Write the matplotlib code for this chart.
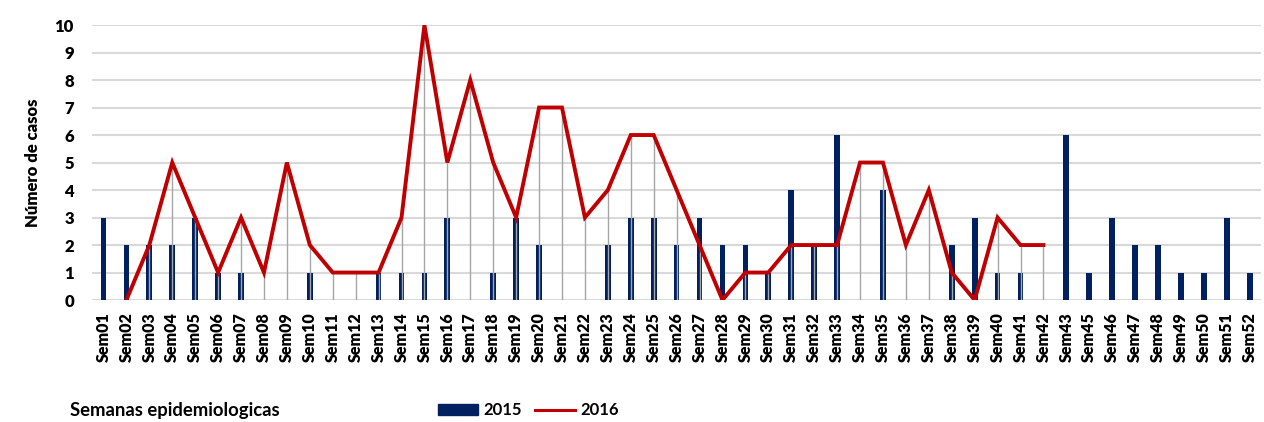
import matplotlib
matplotlib.use("Agg")
import matplotlib.pyplot as plt
from matplotlib.patches import Patch
from matplotlib.lines import Line2D
import numpy as np

plt.rcParams['font.family'] = ['Lato', 'DejaVu Sans']

weeks = ["Sem01", "Sem02", "Sem03", "Sem04", "Sem05", "Sem06", "Sem07", "Sem08", "Sem09", "Sem10",
         "Sem11", "Sem12", "Sem13", "Sem14", "Sem15", "Sem16", "Sem17", "Sem18", "Sem19", "Sem20",
         "Sem21", "Sem22", "Sem23", "Sem24", "Sem25", "Sem26", "Sem27", "Sem28", "Sem29", "Sem30",
         "Sem31", "Sem32", "Sem33", "Sem34", "Sem35", "Sem36", "Sem37", "Sem38", "Sem39", "Sem40",
         "Sem41", "Sem42", "Sem43", "Sem45", "Sem46", "Sem47", "Sem48", "Sem49", "Sem50", "Sem51",
         "Sem52"]

cases_2015 = [3, 2, 2, 2, 3, 1, 1, 0, 0, 1,
              0, 0, 1, 1, 1, 3, 0, 1, 3, 2,
              0, 0, 2, 3, 3, 2, 3, 2, 2, 1,
              4, 2, 6, 0, 4, 0, 0, 2, 3, 1,
              1, 0, 6, 1, 3, 2, 2, 1, 1, 3,
              1]

# 2016 series: Sem02 .. Sem42
weeks_2016 = weeks[1:42]
cases_2016 = [0, 2, 5, 3, 1, 3, 1, 5, 2,
              1, 1, 1, 3, 10, 5, 8, 5, 3, 7,
              7, 3, 4, 6, 6, 4, 2, 0, 1, 1,
              2, 2, 2, 5, 5, 2, 4, 1, 0, 3,
              2, 2]

navy = "#002060"
red = "#c00000"
grey_drop = "#a6a6a6"

fig = plt.figure(figsize=(12.64, 4.22), dpi=100)
fig.patch.set_facecolor("white")
ax = fig.add_axes([0.0728, 0.289, 0.925, 0.6517])

x = np.arange(len(weeks))
idx = {w: i for i, w in enumerate(weeks)}
x16 = np.array([idx[w] for w in weeks_2016])

for yv in range(0, 11):
    ax.axhline(yv, color="#d9d9d9", lw=1.5, zorder=0)

ax.bar(x, cases_2015, width=0.25, color=navy, zorder=2)
ax.vlines(x16, 0, cases_2016, color=grey_drop, lw=1.0, zorder=3)
ax.plot(x16, cases_2016, color=red, lw=2.8, zorder=4, solid_joinstyle="miter")

ax.set_xlim(-0.5, len(weeks) - 0.5)
ax.set_ylim(0, 10)
ax.set_yticks(range(0, 11))
ax.set_xticks(x)
ax.set_xticklabels(weeks, rotation=90, fontsize=11.5, fontweight="heavy")
ax.tick_params(axis="y", labelsize=12, length=0, pad=13)
ax.tick_params(axis="x", length=0, pad=9)
for lab in ax.get_yticklabels():
    lab.set_fontweight("heavy")
for s in ax.spines.values():
    s.set_visible(False)

ax.set_ylabel("Número de casos", fontsize=12, fontweight="heavy", labelpad=10)

fig.text(0.055, 0.028, "Semanas epidemiologicas", fontsize=13.3, fontweight="bold",
         ha="left", va="center")

handles = [Patch(facecolor=navy, edgecolor=navy),
           Line2D([0], [0], color=red, lw=2.2)]
fig.legend(handles, ["2015", "2016"], loc="center", bbox_to_anchor=(0.418, 0.028),
           ncol=2, frameon=False, prop={"weight": "bold", "size": 12},
           handlelength=2.4, handleheight=0.6, columnspacing=0.8, handletextpad=0.3)

fig.savefig("out.png", dpi=100)
